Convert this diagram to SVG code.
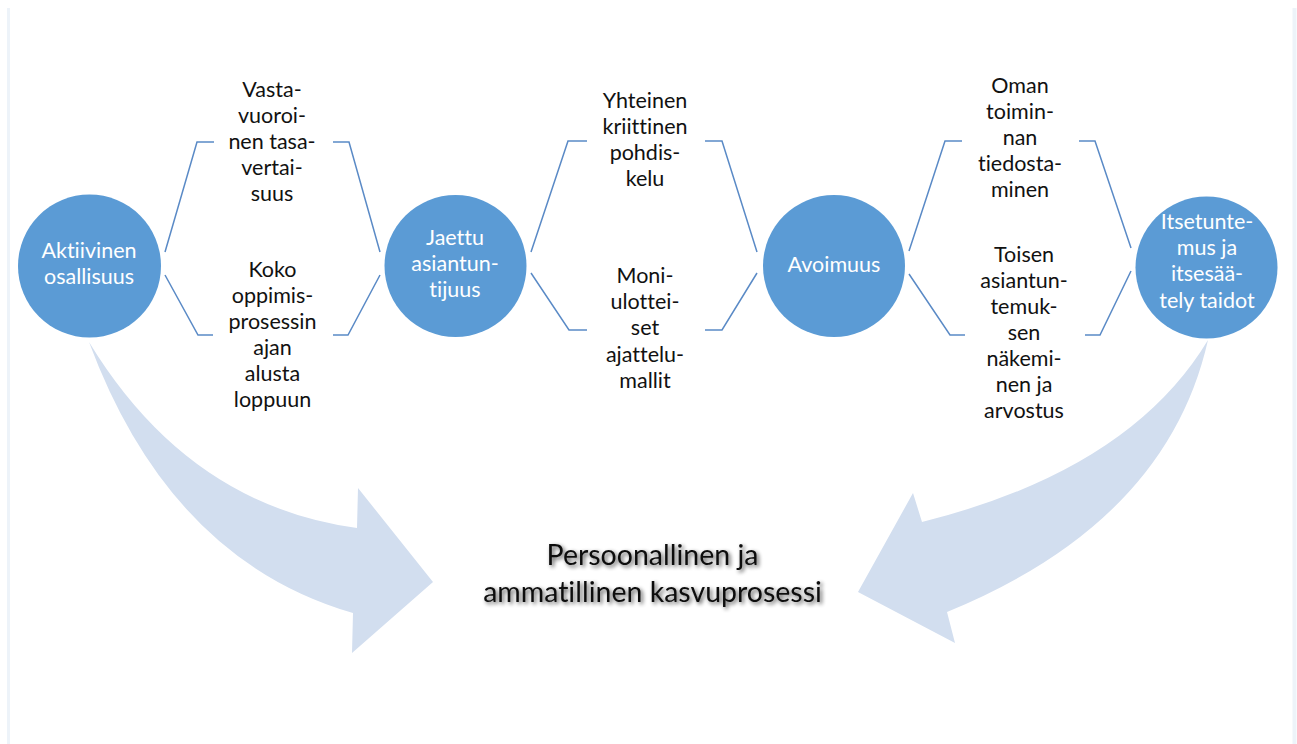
<svg xmlns="http://www.w3.org/2000/svg" width="1297" height="744" viewBox="0 0 1297 744">
<defs>
<style>
text{font-variant-ligatures:none;font-feature-settings:"liga" 0,"dlig" 0;}
.circ{fill:#5B9BD5;}
.ct{font-family:Lato,"Liberation Sans",sans-serif;font-size:21.5px;fill:#ffffff;text-anchor:middle;}
.lt{font-family:Lato,"Liberation Sans",sans-serif;font-size:21.5px;fill:#111111;text-anchor:middle;}
.br{fill:none;stroke:#5A8AC6;stroke-width:1.5;}
.arw{fill:#D2DEEF;}
.mt{font-family:Lato,"Liberation Sans",sans-serif;font-size:28.5px;fill:#111111;text-anchor:middle;}
</style>
<filter id="sh" x="-10%" y="-30%" width="120%" height="160%">
<feGaussianBlur in="SourceAlpha" stdDeviation="2.2"/>
<feOffset dx="1.5" dy="2" result="b"/>
<feComponentTransfer><feFuncA type="linear" slope="0.7"/></feComponentTransfer>
<feMerge><feMergeNode/><feMergeNode in="SourceGraphic"/></feMerge>
</filter>
</defs>
<rect width="1297" height="744" fill="#ffffff"/>
<line x1="8.5" y1="8" x2="8.5" y2="744" stroke="#EDF3F9" stroke-width="3"/>
<line x1="1294.5" y1="8" x2="1294.5" y2="744" stroke="#EDF3F9" stroke-width="4"/>

<g id="arrows">
<path class="arw" d="M89,342 Q170,560 353,613 L352,653 L433,582 L358,488 L357,528 Q188,505 89,342 Z"/>
<path class="arw" d="M1208,340 Q1167,522 947,612 L955,643 L858,592 L913,493 L922,522 Q1130,470 1208,340 Z"/>
</g>

<g id="connectors">
<polyline class="br" points="165,252 197,142 214,142"/>
<polyline class="br" points="333,142 349,142 380,252"/>
<polyline class="br" points="165,275 198,335 213,335"/>
<polyline class="br" points="333,335 348,335 380,275"/>
<polyline class="br" points="531,252 568,141 587,141"/>
<polyline class="br" points="705,141 722,141 757,252"/>
<polyline class="br" points="531,273 569,330 587,330"/>
<polyline class="br" points="705,330 722,330 757,273"/>
<polyline class="br" points="909,251 945,141 962,141"/>
<polyline class="br" points="1079,141 1095,141 1131,248"/>
<polyline class="br" points="909,274 950,335 965,335"/>
<polyline class="br" points="1085,335 1100,335 1131,271"/>
</g>

<g id="node-aktiivinen">
<circle class="circ" cx="89.5" cy="266" r="71.5"/>
<text class="ct" x="89" y="258">Aktiivinen</text>
<text class="ct" x="89" y="284">osallisuus</text>
</g>
<g id="node-jaettu">
<circle class="circ" cx="455.5" cy="266" r="71"/>
<text class="ct" x="455" y="245">Jaettu</text>
<text class="ct" x="455" y="271">asiantun-</text>
<text class="ct" x="455" y="297">tijuus</text>
</g>
<g id="node-avoimuus">
<circle class="circ" cx="834" cy="266" r="71"/>
<text class="ct" x="834" y="272">Avoimuus</text>
</g>
<g id="node-itsetuntemus">
<circle class="circ" cx="1206.5" cy="267.5" r="71"/>
<text class="ct" x="1207" y="229">Itsetunte-</text>
<text class="ct" x="1207" y="255">mus ja</text>
<text class="ct" x="1207" y="281">itsesää-</text>
<text class="ct" x="1207" y="308">tely taidot</text>
</g>

<g id="label-vastavuoroinen">
<text class="lt" x="272" y="97">Vasta-</text>
<text class="lt" x="272" y="123">vuoroi-</text>
<text class="lt" x="272" y="149">nen tasa-</text>
<text class="lt" x="272" y="175">vertai-</text>
<text class="lt" x="272" y="201">suus</text>
</g>
<g id="label-koko">
<text class="lt" x="272.5" y="277">Koko</text>
<text class="lt" x="272.5" y="303">oppimis-</text>
<text class="lt" x="272.5" y="329">prosessin</text>
<text class="lt" x="272.5" y="355">ajan</text>
<text class="lt" x="272.5" y="381">alusta</text>
<text class="lt" x="272.5" y="407">loppuun</text>
</g>
<g id="label-yhteinen">
<text class="lt" x="645" y="108">Yhteinen</text>
<text class="lt" x="645" y="134">kriittinen</text>
<text class="lt" x="645" y="160">pohdis-</text>
<text class="lt" x="645" y="186">kelu</text>
</g>
<g id="label-moni">
<text class="lt" x="645" y="283">Moni-</text>
<text class="lt" x="645" y="309">ulottei-</text>
<text class="lt" x="645" y="335">set</text>
<text class="lt" x="645" y="362">ajattelu-</text>
<text class="lt" x="645" y="388">mallit</text>
</g>
<g id="label-oman">
<text class="lt" x="1020" y="93">Oman</text>
<text class="lt" x="1020" y="119">toimin-</text>
<text class="lt" x="1020" y="145">nan</text>
<text class="lt" x="1020" y="171">tiedosta-</text>
<text class="lt" x="1020" y="197">minen</text>
</g>
<g id="label-toisen">
<text class="lt" x="1024" y="262">Toisen</text>
<text class="lt" x="1024" y="288">asiantun-</text>
<text class="lt" x="1024" y="314">temuk-</text>
<text class="lt" x="1024" y="340">sen</text>
<text class="lt" x="1024" y="366">näkemi-</text>
<text class="lt" x="1024" y="392">nen ja</text>
<text class="lt" x="1024" y="418">arvostus</text>
</g>

<g id="center-text" filter="url(#sh)">
<text class="mt" x="652.5" y="565">Persoonallinen ja</text>
<text class="mt" x="652.5" y="602">ammatillinen kasvuprosessi</text>
</g>
</svg>
